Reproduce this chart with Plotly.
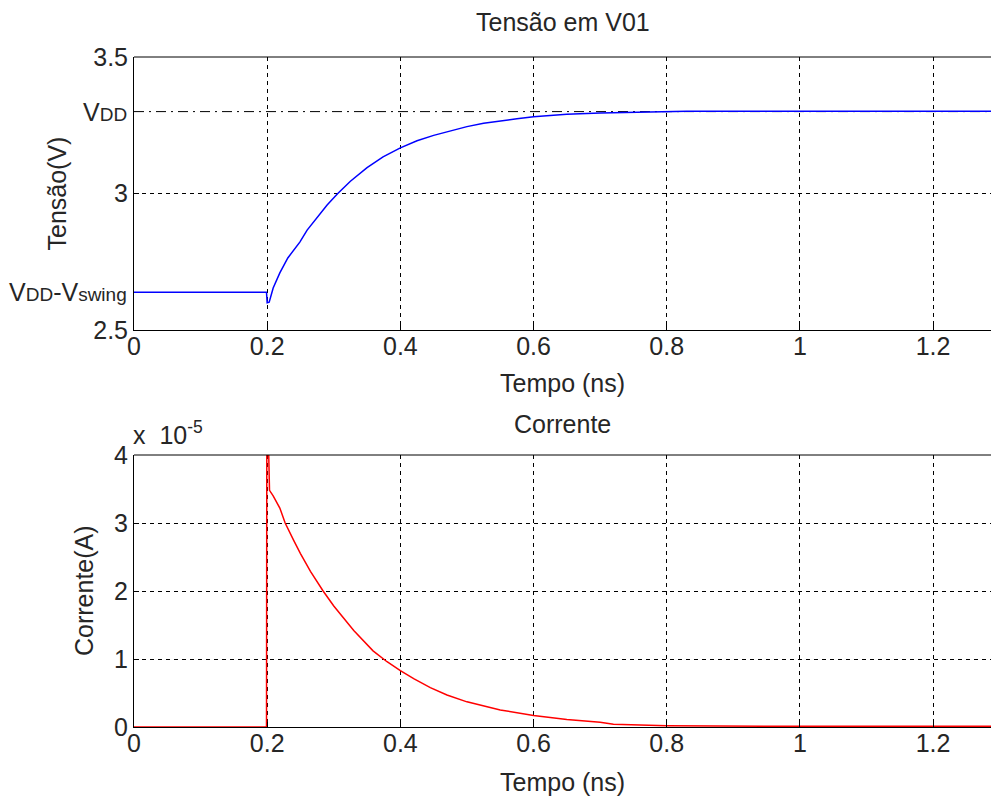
import plotly.graph_objects as go

# ---- data ----
t_v = [0, 0.199, 0.200, 0.203, 0.209, 0.219, 0.231, 0.249, 0.260, 0.275, 0.290, 0.306,
       0.325, 0.350, 0.374, 0.400, 0.425, 0.450, 0.475, 0.500, 0.525, 0.550, 0.575,
       0.600, 0.650, 0.700, 0.750, 0.800, 0.830, 1.000, 1.300]
tensao = [2.638, 2.638, 2.600, 2.602, 2.654, 2.709, 2.764, 2.822, 2.866, 2.914, 2.958, 3.000,
          3.045, 3.095, 3.134, 3.167, 3.193, 3.213, 3.230, 3.245, 3.257, 3.266, 3.274,
          3.281, 3.290, 3.295, 3.298, 3.299, 3.301, 3.301, 3.301]

t_i = [0, 0.199, 0.1995, 0.201, 0.2035, 0.209, 0.219, 0.227, 0.240, 0.250, 0.265, 0.284,
       0.300, 0.330, 0.359, 0.380, 0.400, 0.420, 0.445, 0.470, 0.500, 0.550, 0.600,
       0.650, 0.700, 0.720, 0.800, 1.000, 1.300]
corrente_e5 = [0.0, 0.0, 4.6, 4.6, 3.48, 3.40, 3.22, 3.00, 2.74, 2.55, 2.29, 2.00,
               1.78, 1.42, 1.12, 0.96, 0.83, 0.71, 0.58, 0.47, 0.37, 0.25, 0.17,
               0.11, 0.07, 0.04, 0.02, 0.01, 0.01]
corrente = [c * 1e-5 for c in corrente_e5]

VDD = 3.3
VDD_VSWING = 2.638

x_ticks = [0, 0.2, 0.4, 0.6, 0.8, 1.0, 1.2]
x_ticktext = ["0", "0.2", "0.4", "0.6", "0.8", "1", "1.2"]
v_ticks = [2.5, 3.0, 3.5]
v_ticktext = ["2.5", "3", "3.5"]
i_ticks = [0, 1e-5, 2e-5, 3e-5, 4e-5]
i_ticktext = ["0", "1", "2", "3", "4"]

FONT = "Liberation Sans, Arial, sans-serif"
TXT = "#262626"
FS = 25

fig = go.Figure()
fig.add_trace(go.Scatter(x=[0, 1.3], y=[VDD, VDD], mode="lines",
                         line=dict(color="black", width=1, dash="10px,5px,2px,5px"),
                         xaxis="x", yaxis="y", hoverinfo="skip"))
fig.add_trace(go.Scatter(x=t_v, y=tensao, mode="lines",
                         line=dict(color="#0000ff", width=1.5),
                         xaxis="x", yaxis="y"))
fig.add_trace(go.Scatter(x=t_i, y=corrente, mode="lines",
                         line=dict(color="#ff0000", width=1.5),
                         xaxis="x2", yaxis="y2"))

axcommon = dict(showline=True, linecolor="black", linewidth=1, ticks="inside",
                ticklen=5, tickcolor="black", showgrid=True, gridcolor="black",
                gridwidth=1, griddash="4px,4px", zeroline=False,
                tickfont=dict(family=FONT, size=FS, color=TXT))

H = 670.0
fig.update_layout(
    width=991, height=799,
    margin=dict(l=134, r=0, t=57, b=72),
    paper_bgcolor="white", plot_bgcolor="white",
    showlegend=False,
    xaxis=dict(domain=[0, 1], range=[0, 1.287], anchor="y", ticklabelstandoff=-6,
               tickvals=x_ticks, ticktext=x_ticktext, **axcommon),
    yaxis=dict(domain=[397 / H, 1], range=[2.5, 3.5], anchor="x",
               tickvals=v_ticks, ticktext=v_ticktext, **axcommon),
    xaxis2=dict(domain=[0, 1], range=[0, 1.287], anchor="y2", ticklabelstandoff=-6,
                tickvals=x_ticks, ticktext=x_ticktext, **axcommon),
    yaxis2=dict(domain=[0, 272 / H], range=[0, 4e-5], anchor="x2",
                tickvals=i_ticks, ticktext=i_ticktext, **axcommon),
)

# top borders
for yr in ["y domain", "y2 domain"]:
    fig.add_shape(type="line", xref="paper", x0=0, x1=1, yref=yr, y0=1, y1=1,
                  line=dict(color="black", width=1))

af = dict(family=FONT, size=FS, color=TXT)
small = 19
C = dict(showarrow=False, font=af, xanchor="center", yanchor="middle")
ann = [
    dict(text="Tensão em V01", xref="paper", x=0.5, yref="y domain", y=1, yshift=35, **C),
    dict(text="Corrente", xref="paper", x=0.5, yref="y2 domain", y=1, yshift=31, **C),
    dict(text="Tempo (ns)", xref="paper", x=0.5, yref="y domain", y=0, yshift=-53, **C),
    dict(text="Tempo (ns)", xref="paper", x=0.5, yref="y2 domain", y=0, yshift=-55, **C),
    dict(text="Tensão(V)", xref="paper", x=0, xshift=-78, yref="y domain", y=0.5,
         textangle=-90, **C),
    dict(text="Corrente(A)", xref="paper", x=0, xshift=-50, yref="y2 domain", y=0.5,
         textangle=-90, **C),
    dict(text=f"V<span style='font-size:{small}px'>DD</span>", xref="paper", x=0,
         xshift=-5, xanchor="right", yanchor="middle", yref="y", y=VDD,
         showarrow=False, font=af),
    dict(text=f"V<span style='font-size:{small}px'>DD</span>-V<span style='font-size:{small}px'>swing</span>",
         xref="paper", x=0, xshift=-5, xanchor="right", yanchor="middle", yref="y",
         y=VDD_VSWING, showarrow=False, font=af),
    dict(text="x  10<sup>-5</sup>", xref="paper", x=0, xshift=-3, xanchor="left",
         yanchor="middle", yref="y2 domain", y=1, yshift=22, showarrow=False, font=af),
]
fig.update_layout(annotations=ann)

fig.write_html("out.html")
